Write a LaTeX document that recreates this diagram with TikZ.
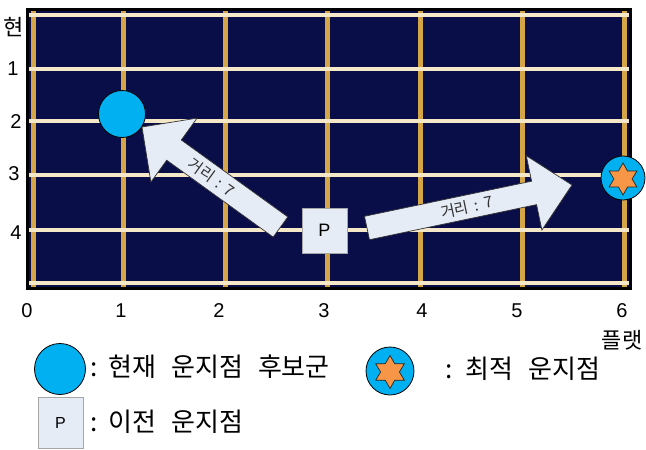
\documentclass[tikz,border=0pt]{standalone}
\usepackage{fontspec}
\setmainfont{Liberation Sans}
\newfontfamily\krA{Noto Sans CJK KR}
\usetikzlibrary{shapes.geometric}
\definecolor{navy}{RGB}{10,14,72}
\definecolor{fretgold}{RGB}{212,166,72}
\definecolor{strcream}{RGB}{245,232,200}
\definecolor{candblue}{RGB}{0,176,240}
\definecolor{staror}{RGB}{247,150,70}
\definecolor{boxfill}{RGB}{230,236,246}
\definecolor{txtgray}{RGB}{50,50,50}
\newcommand{\wgap}{\hspace{15pt}}
\tikzset{
  fret/.style={draw=fretgold, line width=5pt},
  gstring/.style={draw=strcream, line width=4.5pt},
  numlab/.style={font=\fontsize{20}{24}\selectfont, inner sep=0pt},
  krlab/.style={font=\fontsize{22}{26}\selectfont\krA, inner sep=0pt},
  legtext/.style={font=\fontsize{26}{30}\selectfont\krA, inner sep=0pt, anchor=west},
  cand/.style={circle, fill=candblue, draw=black, line width=0.8pt, inner sep=0pt},
  optstar/.style={star, star points=6, star point ratio=1.75, fill=staror, draw=black!85, line width=0.7pt, inner sep=0pt},
  pbox/.style={rectangle, fill=boxfill, draw=gray!70, line width=0.8pt, inner sep=0pt},
  blockarrow/.style={fill=boxfill, draw=black!80, line width=0.7pt},
  arrowtext/.style={font=\fontsize{15.5}{18}\selectfont\krA, text=txtgray, inner sep=0pt}
}
\begin{document}
\begin{tikzpicture}[x=1pt,y=-1pt]
\useasboundingbox (0,0) rectangle (646,450);
% board
\fill[navy] (28,10) rectangle (630,288);
\foreach \x in {33,123,225,327,420,522,624} \draw[fret] (\x,10) -- (\x,288);
\foreach \y in {15,69,121,175,230,283} \draw[gstring] (28,\y) -- (630,\y);
\draw[black, line width=3pt] (27.5,9.5) rectangle (630.5,288.5);
% string labels
\node[krlab] (hyeon) at (14,27) {현};
\node[numlab] (s1) at (13,69) {1};
\node[numlab] (s2) at (16,122) {2};
\node[numlab] (s3) at (14,174) {3};
\node[numlab] (s4) at (16,233) {4};
% fret labels
\node[numlab] (f0) at (27,310.5) {0};
\node[numlab] (f1) at (121,310.5) {1};
\node[numlab] (f2) at (219,310.5) {2};
\node[numlab] (f3) at (324,310.5) {3};
\node[numlab] (f4) at (422,310.5) {4};
\node[numlab] (f5) at (517,310.5) {5};
\node[numlab] (f6) at (622,310.5) {6};
\node[krlab] (fret) at (622,340) {플랫};
% markers
\node[cand, minimum size=47pt] (cand) at (122,114) {};
\node[cand, minimum size=44pt] (opt) at (623,178) {};
\node[optstar, minimum size=32pt] (optS) at (623,179) {};
\node[pbox, minimum size=45pt, font=\fontsize{18}{20}\selectfont] (prev) at (324.5,230.5) {P};
% arrows
\coordinate (a1t1) at (287.8,216.9);
\coordinate (a1n1) at (181.3,140.0);
\coordinate (a1b1) at (197.1,118.1);
\coordinate (a1tip) at (142,127);
\coordinate (a1b2) at (150.9,182.1);
\coordinate (a1n2) at (166.7,160.2);
\coordinate (a1t2) at (273.2,237.1);
\draw[blockarrow] (a1t1) -- (a1n1) -- (a1b1) -- (a1tip) -- (a1b2) -- (a1n2) -- (a1t2) -- cycle;
\node[arrowtext, rotate=-36] (d1) at (211.5,177.5) {거리\hspace{6pt}:\hspace{6pt}7};
\coordinate (a2t1) at (364.5,216.3);
\coordinate (a2n1) at (531.6,181.2);
\coordinate (a2b1) at (526.3,155.7);
\coordinate (a2tip) at (572,185);
\coordinate (a2b2) at (541.9,230.1);
\coordinate (a2n2) at (536.6,204.6);
\coordinate (a2t2) at (369.5,239.7);
\draw[blockarrow] (a2t1) -- (a2n1) -- (a2b1) -- (a2tip) -- (a2b2) -- (a2n2) -- (a2t2) -- cycle;
\node[arrowtext, rotate=11.8] (d2) at (467,207) {거리\hspace{6pt}:\hspace{6pt}7};
% legend
\node[cand, minimum size=51pt] (lcand) at (60,369) {};
\node[legtext] (lt1) at (90,367) {:\hspace{11pt}현재\wgap 운지점\wgap 후보군};
\node[cand, minimum size=48pt] (lopt) at (390,371) {};
\node[optstar, minimum size=33pt] (loptS) at (390,372) {};
\node[legtext] (lt2) at (445,369) {:\hspace{13pt}최적\wgap 운지점};
\node[pbox, minimum width=45pt, minimum height=51pt, font=\fontsize{16}{18}\selectfont] (lprev) at (60.5,422.5) {P};
\node[legtext] (lt3) at (90,422) {:\hspace{11pt}이전\wgap 운지점};
\end{tikzpicture}
\end{document}
